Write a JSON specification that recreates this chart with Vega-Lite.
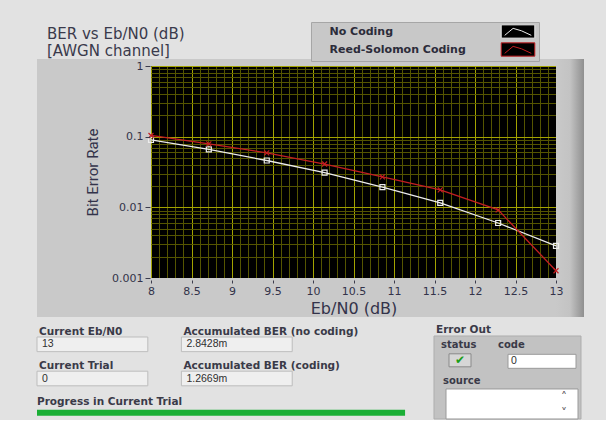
{
  "$schema": "https://vega.github.io/schema/vega-lite/v6.json",
  "background": "#e2e2e2",
  "padding": {"left": 36, "top": 21, "right": 23, "bottom": 0},
  "spacing": 7,
  "config": {"view": {"stroke": null}, "font": "DejaVu Sans"},
  "datasets": {
    "ber": [
      {"ebn0": 8, "ber": 0.09, "series": "No Coding"},
      {"ebn0": 8.714, "ber": 0.066, "series": "No Coding"},
      {"ebn0": 9.429, "ber": 0.046, "series": "No Coding"},
      {"ebn0": 10.143, "ber": 0.031, "series": "No Coding"},
      {"ebn0": 10.857, "ber": 0.0193, "series": "No Coding"},
      {"ebn0": 11.571, "ber": 0.0116, "series": "No Coding"},
      {"ebn0": 12.286, "ber": 0.006, "series": "No Coding"},
      {"ebn0": 13, "ber": 0.0028428, "series": "No Coding"},
      {"ebn0": 8, "ber": 0.104, "series": "Reed-Solomon Coding"},
      {"ebn0": 8.714, "ber": 0.079, "series": "Reed-Solomon Coding"},
      {"ebn0": 9.429, "ber": 0.059, "series": "Reed-Solomon Coding"},
      {"ebn0": 10.143, "ber": 0.041, "series": "Reed-Solomon Coding"},
      {"ebn0": 10.857, "ber": 0.027, "series": "Reed-Solomon Coding"},
      {"ebn0": 11.571, "ber": 0.0177, "series": "Reed-Solomon Coding"},
      {"ebn0": 12.286, "ber": 0.0092, "series": "Reed-Solomon Coding"},
      {"ebn0": 13, "ber": 0.0012669, "series": "Reed-Solomon Coding"}
    ],
    "indicators": [
      {"group": "Trial", "slot": "1", "label": "Current Eb/N0", "value": "13"},
      {"group": "Trial", "slot": "2", "label": "Current Trial", "value": "0"},
      {"group": "BER", "slot": "1", "label": "Accumulated BER (no coding)", "value": "2.8428m"},
      {"group": "BER", "slot": "2", "label": "Accumulated BER (coding)", "value": "1.2669m"}
    ],
    "progress": [{"label": "Progress in Current Trial", "progress": 1, "slot": "3"}],
    "errorOut": [{"cluster": "Error Out", "status": "✔", "code": "0", "source": ""}]
  },
  "vconcat": [
    {
      "width": 405,
      "height": 212,
      "view": {"fill": "#000000", "stroke": null},
      "title": {
        "text": ["BER vs Eb/N0 (dB)", "[AWGN channel]"],
        "anchor": "start",
        "frame": "group",
        "dx": -104,
        "dy": 2,
        "offset": 1.5,
        "font": "DejaVu Sans",
        "fontSize": 15,
        "fontWeight": "normal",
        "color": "#3a3a4c",
        "lineHeight": 17.6
      },
      "resolve": {"axis": {"x": "independent", "y": "independent"}},
      "layer": [
        {
          "data": {"values": [{}]},
          "mark": {"type": "rect", "clip": false, "fill": "#c9c9c9"},
          "encoding": {
            "x": {"datum": 6.5926, "type": "quantitative", "scale": {"domain": [8, 13], "nice": false, "zero": false}, "axis": null},
            "x2": {"datum": 8},
            "y": {"datum": 1.2563, "type": "quantitative", "scale": {"type": "log", "domain": [0.001, 1], "nice": false}, "axis": null},
            "y2": {"datum": 0.0002806}
          }
        },
        {
          "data": {"values": [{}]},
          "mark": {"type": "rect", "clip": false, "fill": {"gradient": "linear", "x1": 0, "y1": 0, "x2": 1, "y2": 0, "stops": [{"offset": 0, "color": "#c9c9c9"}, {"offset": 0.5, "color": "#c3c3c3"}, {"offset": 1, "color": "#8f8f8f"}]}},
          "encoding": {
            "x": {"datum": 13, "type": "quantitative", "scale": {"domain": [8, 13], "nice": false, "zero": false}, "axis": null},
            "x2": {"datum": 13.3457},
            "y": {"datum": 1.2563, "type": "quantitative", "scale": {"type": "log", "domain": [0.001, 1], "nice": false}, "axis": null},
            "y2": {"datum": 0.0002806}
          }
        },
        {
          "data": {"values": [{}]},
          "mark": {"type": "rect", "clip": false, "fill": "#c9c9c9"},
          "encoding": {
            "x": {"datum": 8, "type": "quantitative", "scale": {"domain": [8, 13], "nice": false, "zero": false}, "axis": null},
            "x2": {"datum": 13},
            "y": {"datum": 1.2563, "type": "quantitative", "scale": {"type": "log", "domain": [0.001, 1], "nice": false}, "axis": null},
            "y2": {"datum": 1}
          }
        },
        {
          "data": {"values": [{}]},
          "mark": {"type": "rect", "clip": false, "fill": "#c9c9c9"},
          "encoding": {
            "x": {"datum": 8, "type": "quantitative", "scale": {"domain": [8, 13], "nice": false, "zero": false}, "axis": null},
            "x2": {"datum": 13},
            "y": {"datum": 0.001, "type": "quantitative", "scale": {"type": "log", "domain": [0.001, 1], "nice": false}, "axis": null},
            "y2": {"datum": 0.0002806}
          }
        },
        {
          "data": {"name": "ber"},
          "mark": {"type": "line", "strokeWidth": 1.3},
          "encoding": {
            "x": {
              "field": "ebn0", "type": "quantitative",
              "scale": {"domain": [8, 13], "nice": false, "zero": false},
              "axis": {
                "orient": "bottom",
                "values": [8, 8.1, 8.2, 8.3, 8.4, 8.5, 8.6, 8.7, 8.8, 8.9, 9, 9.1, 9.2, 9.3, 9.4, 9.5, 9.6, 9.7, 9.8, 9.9, 10, 10.1, 10.2, 10.3, 10.4, 10.5, 10.6, 10.7, 10.8, 10.9, 11, 11.1, 11.2, 11.3, 11.4, 11.5, 11.6, 11.7, 11.8, 11.9, 12, 12.1, 12.2, 12.3, 12.4, 12.5, 12.6, 12.7, 12.8, 12.9, 13],
                "grid": true,
                "gridColor": {"condition": {"test": "abs(datum.value*2-round(datum.value*2))<0.01", "value": "#a3a300"}, "value": "#555500"},
                "gridWidth": 1,
                "gridOpacity": 1,
                "labels": false,
                "ticks": false,
                "domain": false,
                "title": null,
                "zindex": 0
              }
            },
            "y": {
              "field": "ber", "type": "quantitative",
              "scale": {"type": "log", "domain": [0.001, 1], "nice": false},
              "axis": {
                "orient": "left",
                "values": [0.001, 0.002, 0.003, 0.004, 0.005, 0.006, 0.007, 0.008, 0.009, 0.01, 0.02, 0.03, 0.04, 0.05, 0.06, 0.07, 0.08, 0.09, 0.1, 0.2, 0.3, 0.4, 0.5, 0.6, 0.7, 0.8, 0.9, 1],
                "grid": true,
                "gridColor": {"condition": {"test": "abs(log(datum.value)/LN10-round(log(datum.value)/LN10))<0.01", "value": "#a3a300"}, "value": "#555500"},
                "gridWidth": 1,
                "gridOpacity": 1,
                "labels": false,
                "ticks": false,
                "domain": false,
                "title": null,
                "zindex": 0
              }
            },
            "color": {
              "field": "series", "type": "nominal",
              "scale": {"domain": ["No Coding", "Reed-Solomon Coding"], "range": ["#ececec", "#c41e22"]},
              "legend": {
                "orient": "none", "legendX": 160, "legendY": -44, "title": null,
                "fillColor": "#c8c8c8", "strokeColor": "#a6a6a6", "padding": 2, "rowPadding": -1,
                "symbolType": "M-2.4,-0.95L2.4,-0.95L2.4,0.95L-2.4,0.95Z M-1.9,0.55L-0.7,-0.45L0.5,-0.1L1.9,0.55",
                "symbolSize": 196, "symbolStrokeWidth": 1, "symbolOffset": 197.5, "labelOffset": -196,
                "labelFont": "DejaVu Sans", "labelFontSize": 11, "labelFontWeight": "bold", "labelColor": "#2c2c3a", "labelLimit": 300,
                "encode": {"symbols": {"update": {
                  "shape": {"value": "M-2.4,-0.95L2.4,-0.95L2.4,0.95L-2.4,0.95Z M-1.9,0.55L-0.7,-0.45L0.5,-0.1L1.9,0.55"},
                  "size": {"value": 196},
                  "fill": {"value": "#000000"}, "fillOpacity": {"value": 1}, "opacity": {"value": 1}, "strokeWidth": {"value": 1}}}}
              }
            }
          }
        },
        {
          "data": {"name": "ber"},
          "transform": [{"filter": "datum.series == 'No Coding'"}],
          "mark": {"type": "point", "shape": "square", "filled": false, "size": 25, "strokeWidth": 1.2, "opacity": 1},
          "encoding": {
            "x": {
              "field": "ebn0", "type": "quantitative",
              "scale": {"domain": [8, 13], "nice": false, "zero": false},
              "axis": {
                "orient": "bottom",
                "values": [8, 8.5, 9, 9.5, 10, 10.5, 11, 11.5, 12, 12.5, 13],
                "grid": false, "domain": false, "ticks": true, "tickSize": 3, "tickColor": "#3c3c4c", "offset": 2,
                "labelPadding": 2, "labelFont": "DejaVu Sans", "labelFontSize": 11, "labelColor": "#33334a",
                "labelFlush": false, "labelOverlap": false, "format": "~g",
                "title": "Eb/N0 (dB)", "titleFont": "DejaVu Sans", "titleFontSize": 16, "titleFontWeight": "normal",
                "titleColor": "#33334a", "titlePadding": 4, "zindex": 1
              }
            },
            "y": {
              "field": "ber", "type": "quantitative",
              "scale": {"type": "log", "domain": [0.001, 1], "nice": false},
              "axis": {
                "orient": "left",
                "values": [0.001, 0.01, 0.1, 1],
                "grid": false, "domain": false, "tickSize": 5, "tickColor": "#3c3c4c", "offset": 1,
                "labelPadding": 2, "labelFont": "DejaVu Sans", "labelFontSize": 11, "labelColor": "#33334a",
                "labelFlush": false, "labelOverlap": false, "format": "~g",
                "title": "Bit Error Rate", "titleFont": "Roboto", "titleFontSize": 15, "titleFontWeight": "normal",
                "titleColor": "#33334a", "titlePadding": 11, "zindex": 1
              }
            },
            "color": {
              "field": "series", "type": "nominal",
              "scale": {"domain": ["No Coding", "Reed-Solomon Coding"], "range": ["#ececec", "#c41e22"]},
              "legend": null
            }
          }
        },
        {
          "data": {"name": "ber"},
          "transform": [{"filter": "datum.series == 'Reed-Solomon Coding'"}],
          "mark": {"type": "point", "shape": "M-1,-1L1,1M-1,1L1,-1", "filled": false, "size": 25, "strokeWidth": 1.2, "opacity": 1},
          "encoding": {
            "x": {"field": "ebn0", "type": "quantitative", "scale": {"domain": [8, 13], "nice": false, "zero": false}, "axis": null},
            "y": {"field": "ber", "type": "quantitative", "scale": {"type": "log", "domain": [0.001, 1], "nice": false}, "axis": null},
            "color": {
              "field": "series", "type": "nominal",
              "scale": {"domain": ["No Coding", "Reed-Solomon Coding"], "range": ["#ececec", "#c41e22"]},
              "legend": null
            }
          }
        }
      ]
    },
    {
      "width": 544,
      "height": 83,
      "resolve": {"scale": {"x": "independent"}},
      "layer": [
        {
          "data": {"name": "indicators"},
          "mark": {"type": "rect", "fill": "#efefef", "stroke": "#bdbdbd", "strokeWidth": 1},
          "encoding": {
            "x": {"field": "group", "type": "nominal", "scale": {"type": "band", "domain": ["Trial", "BER"], "range": [-114, 430], "paddingInner": 0.2326, "paddingOuter": 1, "align": 0}, "axis": null},
            "y": {"field": "slot", "type": "nominal", "scale": {"type": "band", "domain": ["1", "2", "3"], "paddingInner": 0.5714, "paddingOuter": 0, "align": 0}, "axis": null}
          }
        },
        {
          "data": {"name": "indicators"},
          "mark": {"type": "text", "align": "left", "baseline": "alphabetic", "dx": 2, "dy": -2, "font": "DejaVu Sans", "fontSize": 10.5, "fontWeight": "bold", "color": "#3a3a48"},
          "encoding": {
            "x": {"field": "group", "type": "nominal", "bandPosition": 0, "scale": {"type": "band", "domain": ["Trial", "BER"], "range": [-114, 430], "paddingInner": 0.2326, "paddingOuter": 1, "align": 0}, "axis": null},
            "y": {"field": "slot", "type": "nominal", "bandPosition": 0, "scale": {"type": "band", "domain": ["1", "2", "3"], "paddingInner": 0.5714, "paddingOuter": 0, "align": 0}, "axis": null},
            "text": {"field": "label"}
          }
        },
        {
          "data": {"name": "indicators"},
          "mark": {"type": "text", "align": "left", "baseline": "middle", "dx": 5, "font": "Liberation Sans", "fontSize": 10.5, "color": "#303030"},
          "encoding": {
            "x": {"field": "group", "type": "nominal", "bandPosition": 0, "scale": {"type": "band", "domain": ["Trial", "BER"], "range": [-114, 430], "paddingInner": 0.2326, "paddingOuter": 1, "align": 0}, "axis": null},
            "y": {"field": "slot", "type": "nominal", "scale": {"type": "band", "domain": ["1", "2", "3"], "paddingInner": 0.5714, "paddingOuter": 0, "align": 0}, "axis": null},
            "text": {"field": "value"}
          }
        },
        {
          "data": {"name": "progress"},
          "mark": {"type": "text", "align": "left", "baseline": "alphabetic", "dy": 0, "font": "DejaVu Sans", "fontSize": 10.5, "fontWeight": "bold", "color": "#3a3a48"},
          "encoding": {
            "x": {"datum": 0, "type": "quantitative", "scale": {"domain": [0, 1.478], "range": [-114, 430], "nice": false, "zero": true}, "axis": null},
            "y": {"field": "slot", "type": "nominal", "bandPosition": 0, "scale": {"type": "band", "domain": ["1", "2", "3"], "paddingInner": 0.5714, "paddingOuter": 0, "align": 0}, "axis": null},
            "text": {"field": "label"}
          }
        },
        {
          "data": {"name": "progress"},
          "mark": {"type": "bar", "height": 6, "color": "#1aae35"},
          "encoding": {
            "x": {"field": "progress", "type": "quantitative", "scale": {"domain": [0, 1.478], "range": [-114, 430], "nice": false, "zero": true}, "axis": null},
            "y": {"field": "slot", "type": "nominal", "scale": {"type": "band", "domain": ["1", "2", "3"], "paddingInner": 0.5714, "paddingOuter": 0, "align": 0}, "axis": null}
          }
        },
        {
          "data": {"name": "errorOut"},
          "mark": {"type": "bar", "height": 83, "yOffset": -1, "fill": "#c2c2c2", "stroke": "#adadad"},
          "encoding": {
            "x": {"field": "cluster", "type": "nominal", "scale": {"type": "band", "domain": ["Error Out"], "range": [283, 430], "paddingInner": 0, "paddingOuter": 0}, "axis": null},
            "y": {"datum": "2", "type": "nominal", "scale": {"type": "band", "domain": ["1", "2", "3"], "paddingInner": 0.5714, "paddingOuter": 0, "align": 0}, "axis": null}
          }
        },
        {
          "data": {"name": "errorOut"},
          "mark": {"type": "text", "align": "left", "baseline": "alphabetic", "dx": 2, "dy": -4, "font": "DejaVu Sans", "fontSize": 10.5, "fontWeight": "bold", "color": "#3a3a48"},
          "encoding": {
            "x": {"field": "cluster", "type": "nominal", "bandPosition": 0, "scale": {"type": "band", "domain": ["Error Out"], "range": [283, 430], "paddingInner": 0, "paddingOuter": 0}, "axis": null},
            "y": {"datum": "1", "type": "nominal", "bandPosition": 0, "scale": {"type": "band", "domain": ["1", "2", "3"], "paddingInner": 0.5714, "paddingOuter": 0, "align": 0}, "axis": null},
            "text": {"field": "cluster"}
          }
        },
        {
          "data": {"name": "errorOut"},
          "mark": {"type": "text", "text": "status", "align": "left", "baseline": "middle", "dx": 7, "dy": 1, "font": "DejaVu Sans", "fontSize": 10, "fontWeight": "bold", "color": "#3a3a48"},
          "encoding": {
            "x": {"field": "cluster", "type": "nominal", "bandPosition": 0, "scale": {"type": "band", "domain": ["Error Out"], "range": [283, 430], "paddingInner": 0, "paddingOuter": 0}, "axis": null},
            "y": {"datum": "1", "type": "nominal", "scale": {"type": "band", "domain": ["1", "2", "3"], "paddingInner": 0.5714, "paddingOuter": 0, "align": 0}, "axis": null}
          }
        },
        {
          "data": {"name": "errorOut"},
          "mark": {"type": "text", "text": "code", "align": "left", "baseline": "middle", "dx": 64, "dy": 1, "font": "DejaVu Sans", "fontSize": 10, "fontWeight": "bold", "color": "#3a3a48"},
          "encoding": {
            "x": {"field": "cluster", "type": "nominal", "bandPosition": 0, "scale": {"type": "band", "domain": ["Error Out"], "range": [283, 430], "paddingInner": 0, "paddingOuter": 0}, "axis": null},
            "y": {"datum": "1", "type": "nominal", "scale": {"type": "band", "domain": ["1", "2", "3"], "paddingInner": 0.5714, "paddingOuter": 0, "align": 0}, "axis": null}
          }
        },
        {
          "data": {"name": "errorOut"},
          "mark": {"type": "bar", "width": 22, "height": 13, "xOffset": -47.5, "yOffset": 16, "fill": "#d6d6d6", "stroke": "#8a8a8a"},
          "encoding": {
            "x": {"field": "cluster", "type": "nominal", "scale": {"type": "band", "domain": ["Error Out"], "range": [283, 430], "paddingInner": 0, "paddingOuter": 0}, "axis": null},
            "y": {"datum": "1", "type": "nominal", "scale": {"type": "band", "domain": ["1", "2", "3"], "paddingInner": 0.5714, "paddingOuter": 0, "align": 0}, "axis": null}
          }
        },
        {
          "data": {"name": "errorOut"},
          "mark": {"type": "text", "align": "center", "baseline": "middle", "dx": -47.5, "dy": 16, "font": "DejaVu Sans", "fontSize": 12, "fontWeight": "bold", "color": "#1a9e1a"},
          "encoding": {
            "x": {"field": "cluster", "type": "nominal", "scale": {"type": "band", "domain": ["Error Out"], "range": [283, 430], "paddingInner": 0, "paddingOuter": 0}, "axis": null},
            "y": {"datum": "1", "type": "nominal", "scale": {"type": "band", "domain": ["1", "2", "3"], "paddingInner": 0.5714, "paddingOuter": 0, "align": 0}, "axis": null},
            "text": {"field": "status"}
          }
        },
        {
          "data": {"name": "errorOut"},
          "mark": {"type": "bar", "width": 68, "height": 14, "xOffset": 34.5, "yOffset": 17, "fill": "#ffffff", "stroke": "#9a9a9a"},
          "encoding": {
            "x": {"field": "cluster", "type": "nominal", "scale": {"type": "band", "domain": ["Error Out"], "range": [283, 430], "paddingInner": 0, "paddingOuter": 0}, "axis": null},
            "y": {"datum": "1", "type": "nominal", "scale": {"type": "band", "domain": ["1", "2", "3"], "paddingInner": 0.5714, "paddingOuter": 0, "align": 0}, "axis": null}
          }
        },
        {
          "data": {"name": "errorOut"},
          "mark": {"type": "text", "align": "left", "baseline": "middle", "dx": 77, "dy": 17, "font": "Liberation Sans", "fontSize": 10.5, "color": "#303030"},
          "encoding": {
            "x": {"field": "cluster", "type": "nominal", "bandPosition": 0, "scale": {"type": "band", "domain": ["Error Out"], "range": [283, 430], "paddingInner": 0, "paddingOuter": 0}, "axis": null},
            "y": {"datum": "1", "type": "nominal", "scale": {"type": "band", "domain": ["1", "2", "3"], "paddingInner": 0.5714, "paddingOuter": 0, "align": 0}, "axis": null},
            "text": {"field": "code"}
          }
        },
        {
          "data": {"name": "errorOut"},
          "mark": {"type": "text", "text": "source", "align": "left", "baseline": "middle", "dx": 9, "dy": 2, "font": "DejaVu Sans", "fontSize": 10, "fontWeight": "bold", "color": "#3a3a48"},
          "encoding": {
            "x": {"field": "cluster", "type": "nominal", "bandPosition": 0, "scale": {"type": "band", "domain": ["Error Out"], "range": [283, 430], "paddingInner": 0, "paddingOuter": 0}, "axis": null},
            "y": {"datum": "2", "type": "nominal", "scale": {"type": "band", "domain": ["1", "2", "3"], "paddingInner": 0.5714, "paddingOuter": 0, "align": 0}, "axis": null}
          }
        },
        {
          "data": {"name": "errorOut"},
          "mark": {"type": "bar", "width": 132, "height": 30, "xOffset": 4.5, "yOffset": -8.7, "fill": "#ffffff", "stroke": "#9a9a9a"},
          "encoding": {
            "x": {"field": "cluster", "type": "nominal", "scale": {"type": "band", "domain": ["Error Out"], "range": [283, 430], "paddingInner": 0, "paddingOuter": 0}, "axis": null},
            "y": {"datum": "3", "type": "nominal", "scale": {"type": "band", "domain": ["1", "2", "3"], "paddingInner": 0.5714, "paddingOuter": 0, "align": 0}, "axis": null}
          }
        },
        {
          "data": {"name": "errorOut"},
          "mark": {"type": "text", "text": "˄", "align": "center", "baseline": "middle", "dx": 130, "dy": -16, "font": "DejaVu Sans", "fontSize": 12, "color": "#555555"},
          "encoding": {
            "x": {"field": "cluster", "type": "nominal", "bandPosition": 0, "scale": {"type": "band", "domain": ["Error Out"], "range": [283, 430], "paddingInner": 0, "paddingOuter": 0}, "axis": null},
            "y": {"datum": "3", "type": "nominal", "scale": {"type": "band", "domain": ["1", "2", "3"], "paddingInner": 0.5714, "paddingOuter": 0, "align": 0}, "axis": null}
          }
        },
        {
          "data": {"name": "errorOut"},
          "mark": {"type": "text", "text": "˅", "align": "center", "baseline": "middle", "dx": 130, "dy": 0, "font": "DejaVu Sans", "fontSize": 12, "color": "#555555"},
          "encoding": {
            "x": {"field": "cluster", "type": "nominal", "bandPosition": 0, "scale": {"type": "band", "domain": ["Error Out"], "range": [283, 430], "paddingInner": 0, "paddingOuter": 0}, "axis": null},
            "y": {"datum": "3", "type": "nominal", "scale": {"type": "band", "domain": ["1", "2", "3"], "paddingInner": 0.5714, "paddingOuter": 0, "align": 0}, "axis": null}
          }
        }
      ]
    }
  ]
}
